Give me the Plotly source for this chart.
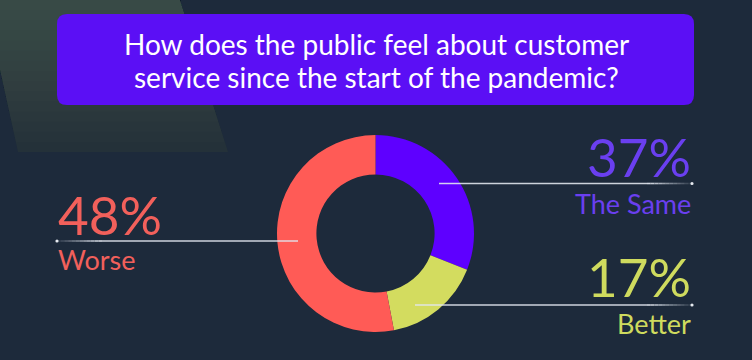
import plotly.graph_objects as go

# ---- data ----
categories = ["The Same", "Better", "Worse"]
pct_labels = [37, 17, 48]            # percentages printed on the chart
arc_shares = [31, 16, 53]            # arc sizes as drawn in the picture
slice_colors = ["#5e00ff", "#d3dc5f", "#ff5b56"]
text_colors = ["#6a3ff0", "#cfdb5e", "#f2605b"]
title_lines = ["How does the public feel about customer",
               "service since the start of the pandemic?"]

W, H = 752, 360
BG = "#1d2a3b"
FONT = "Lato"

fig = go.Figure()

# invisible trace so the pixel-space cartesian axes exist
fig.add_trace(go.Scatter(x=[0, W], y=[0, H], mode="markers",
                         marker=dict(opacity=0), hoverinfo="skip", showlegend=False))

# donut (centre ~ (375.5, 233.5), outer radius ~98.5 px)
cx, cy, r = 375.5, 233.5, 98.5
fig.add_trace(go.Pie(
    labels=categories, values=arc_shares, sort=False,
    direction="clockwise", rotation=0, hole=0.6,
    marker=dict(colors=slice_colors, line=dict(width=0)),
    textinfo="none", hoverinfo="skip", showlegend=False,
    domain=dict(x=[(cx - r) / W, (cx + r) / W],
                y=[1 - (cy + r) / H, 1 - (cy - r) / H]),
))

shapes = []
# subtle lighter wedge in the top-left of the background (soft gradient)
shapes.append(dict(type="path", layer="below", line=dict(width=0),
                   path="M0,0 L180,0 L228,152 L18,152 L0,70 Z",
                   fillcolor="#243139"))
nb = 14
for k in range(1, nb + 1):
    yk = 152 * k / (nb + 1)
    xr = 180 + 48 * yk / 152
    xl = 0 if yk < 70 else 18 * (yk - 70) / 82
    yl = min(yk, 70)
    shapes.append(dict(type="path", layer="below", line=dict(width=0),
                       path=f"M0,0 L180,0 L{xr:.1f},{yk:.1f} L{xl:.1f},{yk:.1f} L0,{yl:.1f} Z",
                       fillcolor="rgba(95,110,85,0.045)"))

# title box with rounded corners
x0, y0, x1, y1, rr = 57, 14, 694, 105, 10
shapes.append(dict(
    type="path", layer="above", line=dict(width=0), fillcolor="#5b0ff5",
    path=(f"M{x0+rr},{y0} L{x1-rr},{y0} Q{x1},{y0} {x1},{y0+rr} "
          f"L{x1},{y1-rr} Q{x1},{y1} {x1-rr},{y1} L{x0+rr},{y1} "
          f"Q{x0},{y1} {x0},{y1-rr} L{x0},{y0+rr} Q{x0},{y0} {x0+rr},{y0} Z")))


def leader(xa, xb, y, fade_len=45, steps=12):
    """line from xa to xb; fades out toward xb (the text end)"""
    out = []
    dirn = 1 if xb > xa else -1
    solid_end = xb - dirn * fade_len
    out.append(dict(type="line", layer="above", x0=xa, x1=solid_end, y0=y, y1=y,
                    line=dict(color="rgba(225,230,238,0.9)", width=1.6)))
    for i in range(steps):
        s0 = solid_end + dirn * fade_len * i / steps
        s1 = solid_end + dirn * fade_len * (i + 1) / steps
        op = 0.9 * (1 - (i + 0.5) / steps) + 0.08
        out.append(dict(type="line", layer="above", x0=s0, x1=s1, y0=y, y1=y,
                        line=dict(color=f"rgba(225,230,238,{op:.2f})", width=1.6)))
    out.append(dict(type="circle", layer="above", x0=xb - 1.6, x1=xb + 1.6,
                    y0=y - 1.6, y1=y + 1.6, fillcolor="#e6eaf0", line=dict(width=0)))
    return out


shapes += leader(439, 692, 183.5)
shapes += leader(415, 692, 305)
shapes += leader(298, 57, 241)

ann = []
ann.append(dict(x=376, y=44, text=title_lines[0], showarrow=False,
                xanchor="center", yanchor="middle",
                font=dict(family=FONT, size=28, color="white")))
ann.append(dict(x=376, y=77, text=title_lines[1], showarrow=False,
                xanchor="center", yanchor="middle",
                font=dict(family=FONT, size=28, color="white")))

big = 53
small = 27
# The Same (right side, top)
ann.append(dict(x=693, y=156, text=f"{pct_labels[0]}%", showarrow=False,
                xanchor="right", yanchor="middle",
                font=dict(family=FONT, size=big, color=text_colors[0])))
ann.append(dict(x=693, y=203, text=categories[0], showarrow=False,
                xanchor="right", yanchor="middle",
                font=dict(family=FONT, size=small, color=text_colors[0])))
# Better (right side, bottom)
ann.append(dict(x=693, y=276, text=f"{pct_labels[1]}%", showarrow=False,
                xanchor="right", yanchor="middle",
                font=dict(family=FONT, size=big, color=text_colors[1])))
ann.append(dict(x=693, y=323, text=categories[1], showarrow=False,
                xanchor="right", yanchor="middle",
                font=dict(family=FONT, size=small, color=text_colors[1])))
# Worse (left side)
ann.append(dict(x=56, y=214, text=f"{pct_labels[2]}%", showarrow=False,
                xanchor="left", yanchor="middle",
                font=dict(family=FONT, size=big, color=text_colors[2])))
ann.append(dict(x=56, y=259, text=categories[2], showarrow=False,
                xanchor="left", yanchor="middle",
                font=dict(family=FONT, size=small, color=text_colors[2])))

fig.update_layout(
    width=W, height=H, margin=dict(l=0, r=0, t=0, b=0, pad=0),
    paper_bgcolor=BG, plot_bgcolor="rgba(0,0,0,0)", showlegend=False,
    xaxis=dict(range=[0, W], visible=False, fixedrange=True, domain=[0, 1]),
    yaxis=dict(range=[H, 0], visible=False, fixedrange=True, domain=[0, 1]),
    shapes=shapes, annotations=ann,
)

fig.write_html("out.html", config=dict(displayModeBar=False),
               post_script="document.body.style.margin='0';")
